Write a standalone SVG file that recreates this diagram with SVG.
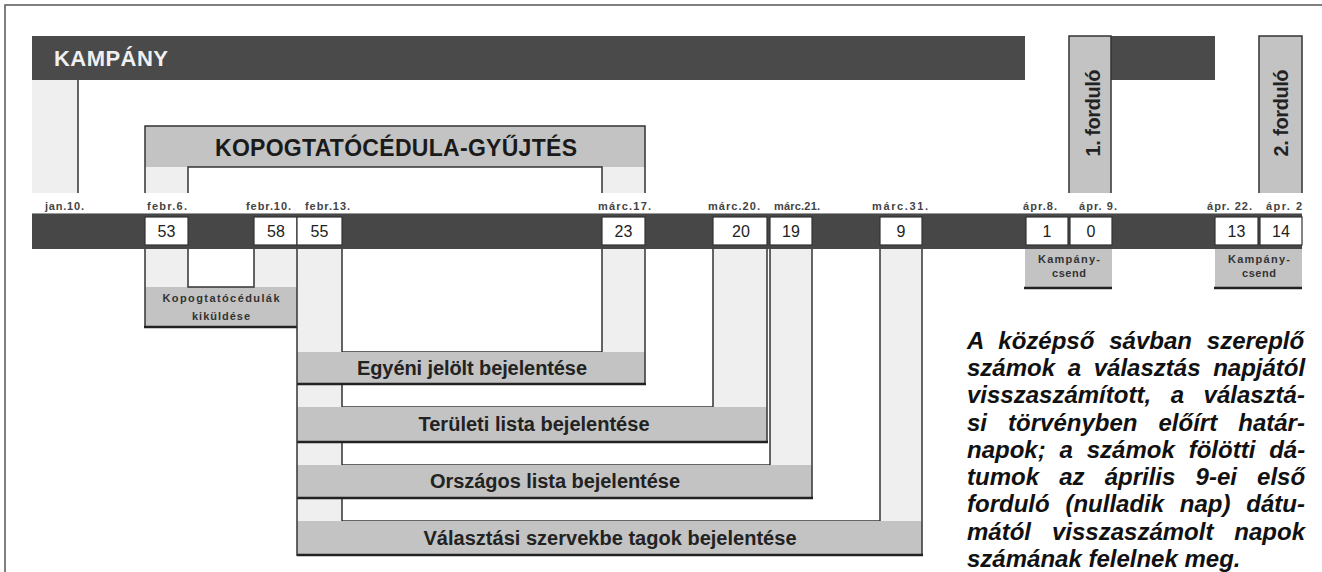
<svg xmlns="http://www.w3.org/2000/svg" width="1322" height="572" viewBox="0 0 1322 572">
<style>
.dark{fill:#4a4a4a}
.mid{fill:#c3c3c3}
.light{fill:#efefef}
.white{fill:#fff}
.ln{stroke:#333;stroke-width:1.5;fill:none}
.thick{stroke:#222;stroke-width:2.5;fill:none}
.box{fill:#fff;stroke:#333;stroke-width:1.2}
.date{font-family:"Liberation Sans",Arial,sans-serif;font-weight:bold;font-size:11px;fill:#444}
.num{font-family:"Liberation Sans",Arial,sans-serif;font-size:16px;fill:#222;text-anchor:middle}
.bar{font-family:"Liberation Sans",Arial,sans-serif;font-weight:bold;font-size:20px;fill:#222;text-anchor:middle}
.small{font-family:"Liberation Sans",Arial,sans-serif;font-weight:bold;font-size:11px;fill:#333;text-anchor:middle}
.vert{font-family:"Liberation Sans",Arial,sans-serif;font-weight:bold;font-size:20px;fill:#222;text-anchor:middle}
.note{font-family:"Liberation Sans",Arial,sans-serif;font-weight:bold;font-style:italic;font-size:24px;fill:#111}
</style>
<rect width="1322" height="572" fill="#fff"/>
<path d="M5,572 V5 H1322" fill="none" stroke="#555" stroke-width="1.5"/>

<g id="kampany">
<rect x="32" y="36" width="993" height="44" class="dark"/>
<rect x="1111" y="36" width="104" height="44" class="dark"/>
<rect x="32" y="80" width="46" height="113" class="light"/>
<line x1="78" y1="80" x2="78" y2="193" class="ln"/>
<text x="54" y="66" font-family="Liberation Sans, Arial, sans-serif" font-weight="bold" font-size="22" fill="#f0f0f0" textLength="114">KAMPÁNY</text>
</g>

<g id="fordulo1">
<rect x="1069" y="36" width="42" height="157" class="mid"/>
<path d="M1069,193 V36 H1111 V193" class="ln"/>
<text class="vert" transform="translate(1100,113) rotate(-90)" textLength="87">1. forduló</text>
</g>
<g id="fordulo2">
<rect x="1259" y="36" width="43" height="157" class="mid"/>
<path d="M1259,193 V36 H1302 V193" class="ln"/>
<text class="vert" transform="translate(1288,113) rotate(-90)" textLength="87">2. forduló</text>
</g>

<g id="kopogtato-gyujtes">
<rect x="145" y="126" width="500" height="67" class="light"/>
<rect x="145" y="126" width="500" height="41" class="mid"/>
<rect x="188" y="167" width="414" height="26" class="white"/>
<path d="M188,193 V167 H602 V193" class="ln"/>
<path d="M145,193 V126 H645 V193" class="ln" stroke-width="2"/>
<text x="215" y="156" font-family="Liberation Sans, Arial, sans-serif" font-weight="bold" font-size="23" fill="#1a1a1a" textLength="362">KOPOGTATÓCÉDULA-GYŰJTÉS</text>
</g>

<g id="dates">
<text class="date" x="45" y="210" textLength="39">jan.10.</text>
<text class="date" x="147" y="210" textLength="40">febr.6.</text>
<text class="date" x="246" y="210" textLength="45">febr.10.</text>
<text class="date" x="305" y="210" textLength="45">febr.13.</text>
<text class="date" x="598" y="210" textLength="53">márc.17.</text>
<text class="date" x="708" y="210" textLength="52">márc.20.</text>
<text class="date" x="774" y="210" textLength="46">márc.21.</text>
<text class="date" x="872" y="210" textLength="56">márc.31.</text>
<text class="date" x="1023" y="210" textLength="34">ápr.8.</text>
<text class="date" x="1079" y="210" textLength="38">ápr. 9.</text>
<text class="date" x="1207" y="210" textLength="45">ápr. 22.</text>
<text class="date" x="1266" y="210" textLength="36">ápr. 2</text>
</g>

<g id="band">
<rect x="32" y="213" width="1270" height="36" fill="#474747"/>
<line x1="32" y1="213.5" x2="1302" y2="213.5" stroke="#9a9a9a" stroke-width="1"/>
</g>

<g id="kopogtato-kikuldes">
<rect x="145" y="249" width="152" height="78" class="light"/>
<rect x="145" y="287" width="152" height="40" class="mid"/>
<rect x="188" y="249" width="66" height="38" class="white"/>
<path d="M188,249 V287 H254 V249" class="ln"/>
<line x1="145" y1="249" x2="145" y2="327" class="ln"/>
<line x1="144" y1="327" x2="297" y2="327" class="thick"/>
<text class="small" x="221" y="302" textLength="117">Kopogtatócédulák</text>
<text class="small" x="221" y="320" textLength="58">kiküldése</text>
</g>

<g id="valasztasi-szervek">
<rect x="297" y="249" width="625" height="306" class="light"/>
<rect x="342" y="249" width="538" height="272" class="white"/>
<path d="M342,249 V521 H880 V249" class="ln"/>
<rect x="297" y="521" width="625" height="34" class="mid"/>
<line x1="922" y1="249" x2="922" y2="555" class="ln"/>
<line x1="297" y1="555" x2="923" y2="555" class="thick"/>
<text class="bar" x="610" y="545" textLength="373">Választási szervekbe tagok bejelentése</text>
</g>

<g id="orszagos-lista">
<rect x="297" y="249" width="515" height="249" class="light"/>
<rect x="342" y="249" width="428" height="216" class="white"/>
<path d="M342,249 V465 H770 V249" class="ln"/>
<rect x="297" y="465" width="515" height="33" class="mid"/>
<line x1="812" y1="249" x2="812" y2="498" class="ln"/>
<line x1="297" y1="498" x2="813" y2="498" class="thick"/>
<text class="bar" x="555" y="488" textLength="250">Országos lista bejelentése</text>
</g>

<g id="teruleti-lista">
<rect x="297" y="249" width="470" height="193" class="light"/>
<rect x="342" y="249" width="371" height="158" class="white"/>
<path d="M342,249 V407 H713 V249" class="ln"/>
<rect x="297" y="407" width="470" height="35" class="mid"/>
<line x1="767" y1="249" x2="767" y2="442" class="ln"/>
<line x1="297" y1="442" x2="768" y2="442" class="thick"/>
<text class="bar" x="534" y="431" textLength="231">Területi lista bejelentése</text>
</g>

<g id="egyeni-jelolt">
<rect x="297" y="249" width="348" height="135" class="light"/>
<rect x="342" y="249" width="260" height="103" class="white"/>
<path d="M342,249 V352 H602 V249" class="ln"/>
<rect x="297" y="352" width="348" height="32" class="mid"/>
<line x1="645" y1="249" x2="645" y2="384" class="ln"/>
<line x1="297" y1="384" x2="646" y2="384" class="thick"/>
<text class="bar" x="472" y="375" textLength="230">Egyéni jelölt bejelentése</text>
</g>
<line x1="297" y1="249" x2="297" y2="556" class="ln"/>

<g id="kampanycsend1">
<rect x="1025" y="249" width="87" height="39" class="mid"/>
<line x1="1024" y1="288" x2="1112" y2="288" class="thick"/>
<text class="small" x="1069" y="263" textLength="62">Kampány-</text>
<text class="small" x="1069" y="277" textLength="34">csend</text>
</g>
<g id="kampanycsend2">
<rect x="1215" y="249" width="87" height="39" class="mid"/>
<line x1="1214" y1="288" x2="1302" y2="288" class="thick"/>
<text class="small" x="1259" y="263" textLength="62">Kampány-</text>
<text class="small" x="1259" y="277" textLength="34">csend</text>
</g>

<g id="numbers">
<rect class="box" x="145" y="217" width="43" height="28"/><text class="num" x="166.5" y="237">53</text>
<rect class="box" x="254" y="217" width="43" height="28"/><text class="num" x="276" y="237">58</text>
<rect class="box" x="297" y="217" width="45" height="28"/><text class="num" x="319.5" y="237">55</text>
<rect class="box" x="602" y="217" width="43" height="28"/><text class="num" x="623.5" y="237">23</text>
<rect class="box" x="713" y="217" width="54" height="28"/><text class="num" x="741" y="237">20</text>
<rect class="box" x="770" y="217" width="42" height="28"/><text class="num" x="791" y="237">19</text>
<rect class="box" x="880" y="217" width="42" height="28"/><text class="num" x="901" y="237">9</text>
<rect class="box" x="1026" y="217" width="42" height="28"/><text class="num" x="1047" y="237">1</text>
<rect class="box" x="1070" y="217" width="42" height="28"/><text class="num" x="1091" y="237">0</text>
<rect class="box" x="1215" y="217" width="43" height="28"/><text class="num" x="1236.5" y="237">13</text>
<rect class="box" x="1260" y="217" width="42" height="28"/><text class="num" x="1281" y="237">14</text>
</g>

<g id="note">
<text class="note" x="967" y="349" word-spacing="8.2">A középső sávban szereplő</text>
<text class="note" x="967" y="376" word-spacing="6">számok a választás napjától</text>
<text class="note" x="967" y="403" word-spacing="12.9">visszaszámított, a választá-</text>
<text class="note" x="967" y="431" word-spacing="14.4">si törvényben előírt határ-</text>
<text class="note" x="967" y="458" word-spacing="7.2">napok; a számok fölötti dá-</text>
<text class="note" x="967" y="485" word-spacing="13.5">tumok az április 9-ei első</text>
<text class="note" x="967" y="512" word-spacing="9.1">forduló (nulladik nap) dátu-</text>
<text class="note" x="967" y="540" word-spacing="14.3">mától visszaszámolt napok</text>
<text class="note" x="967" y="567">számának felelnek meg.</text>
</g>
</svg>
